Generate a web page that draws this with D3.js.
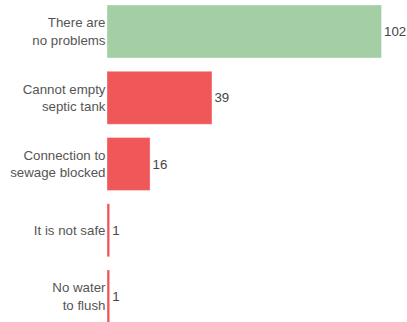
<!DOCTYPE html>
<html>
<head>
<meta charset="utf-8">
<script src="https://cdn.jsdelivr.net/npm/d3@7"></script>
<style>
  html, body { margin: 0; padding: 0; background: #fff; }
  svg { display: block; }
</style>
</head>
<body>
<svg id="chart" width="407" height="322"></svg>
<script>
// Reported sanitation problems, count of responses
const categories = [
  ["There are", "no problems"],
  ["Cannot empty", "septic tank"],
  ["Connection to", "sewage blocked"],
  ["It is not safe"],
  ["No water", "to flush"]
];
const values = [102, 39, 16, 1, 1];
const kinds = ["ok", "problem", "problem", "problem", "problem"];

const width = 407, height = 322;
const left = 107;
const fontSize = 13.3;

const svg = d3.select("#chart");

const x = d3.scaleLinear().domain([0, 102]).range([left, 381.5]);
const y = d3.scaleBand()
  .domain(d3.range(values.length))
  .range([-1.6, 329.6])
  .paddingInner(0.2)
  .paddingOuter(0.1);

const color = d3.scaleOrdinal().domain(["ok", "problem"]).range(["#a4cea4", "#ef5758"]);

const rows = svg.selectAll("g.row")
  .data(values.map((v, i) => ({ v, i, label: categories[i], kind: kinds[i] })))
  .join("g")
  .attr("class", "row");

rows.append("rect")
  .attr("x", x(0))
  .attr("y", d => y(d.i))
  .attr("width", d => x(d.v) - x(0))
  .attr("height", y.bandwidth())
  .attr("fill", d => color(d.kind))
  .attr("stroke", "#ffffff")
  .attr("stroke-opacity", 0.35)
  .attr("stroke-width", 1);

rows.append("text")
  .attr("x", d => x(d.v) + 2.5)
  .attr("y", d => y(d.i) + y.bandwidth() / 2)
  .attr("dy", "0.35em")
  .attr("font-family", "'Liberation Sans', Arial, sans-serif")
  .attr("font-size", fontSize)
  .attr("fill", "#444")
  .text(d => d.v);

const lineH = 17.5;
rows.append("text")
  .attr("text-anchor", "end")
  .attr("font-family", "'Liberation Sans', Arial, sans-serif")
  .attr("font-size", fontSize)
  .attr("fill", "#555")
  .each(function (d) {
    const t = d3.select(this);
    const n = d.label.length;
    const cy = y(d.i) + y.bandwidth() / 2;
    d.label.forEach((line, k) => {
      t.append("tspan")
        .attr("x", left - 1.5)
        .attr("y", cy + (k - (n - 1) / 2) * lineH)
        .attr("dy", "0.35em")
        .text(line);
    });
  });
</script>
</body>
</html>
